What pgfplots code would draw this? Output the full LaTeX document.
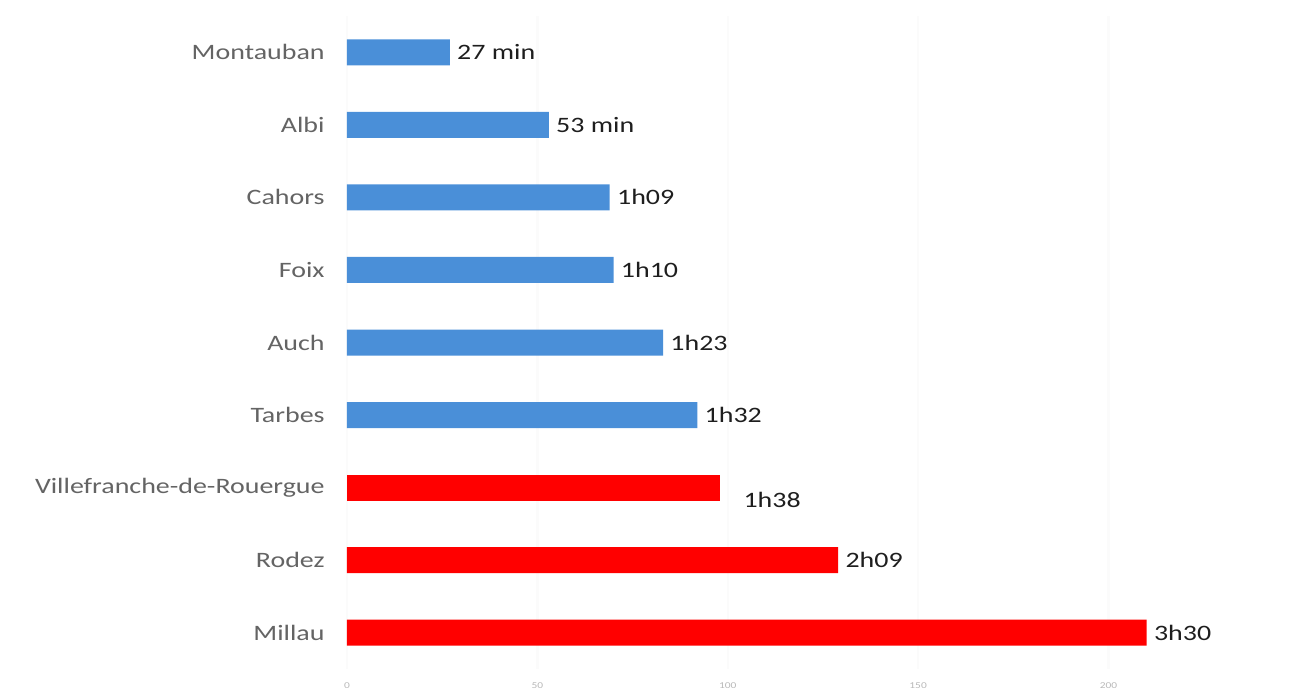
\documentclass[border=0pt]{standalone}
\usepackage{pgfplots}
\pgfplotsset{compat=1.18}
\usepackage{fontspec}
\setmainfont[FakeStretch=1.27]{Carlito}
\definecolor{barblue}{RGB}{74,143,216}
\definecolor{barred}{RGB}{255,0,0}
\definecolor{catgray}{RGB}{100,100,100}
\definecolor{valblack}{RGB}{30,30,30}

\begin{document}
\begin{tikzpicture}
\begin{axis}[
  at={(0pt,0pt)}, anchor=south west,
  scale only axis, width=475pt, height=326.5pt,
  xmin=0, xmax=249.5, ymin=-0.5, ymax=8.5, y dir=reverse,
  axis line style={draw=none},
  major tick length=0pt,
  xtick={0,50,100,150,200},
  ytick={0,...,8},
  yticklabels={Montauban,Albi,Cahors,Foix,Auch,Tarbes,Villefranche-de-Rouergue,Rodez,Millau},
  yticklabel style={font=\fontsize{11}{13}\selectfont, text=catgray, anchor=east, inner sep=0pt, xshift=-11pt},
  xticklabel style={font=\fontsize{4.5}{5}\selectfont, text=gray!55, anchor=north, inner sep=0pt, yshift=-6.5pt},
  /pgf/number format/assume math mode=true,
  xmajorgrids, grid style={gray!3, line width=1.2pt},
  nodes near coords style={font=\fontsize{11}{13}\selectfont, text=valblack, anchor=west, inner sep=0pt, xshift=3.5pt},
]
% regional prefectures
\addplot[xbar, bar width=13pt, bar shift=0pt, fill=barblue, draw=none,
  nodes near coords, point meta=explicit symbolic]
  coordinates {(27,0) [27 min] (53,1) [53 min] (69,2) [1h09] (70,3) [1h10] (83,4) [1h23] (92,5) [1h32]};
% Aveyron towns
\addplot[xbar, bar width=13pt, bar shift=0pt, fill=barred, draw=none,
  nodes near coords, point meta=explicit symbolic,
  nodes near coords style={xshift=8pt, yshift=-6pt}]
  coordinates {(98,6) [1h38]};
\addplot[xbar, bar width=13pt, bar shift=0pt, fill=barred, draw=none,
  nodes near coords, point meta=explicit symbolic]
  coordinates {(129,7) [2h09] (210,8) [3h30]};
\end{axis}
\pgfresetboundingbox
\useasboundingbox (-173.5pt,-13.5pt) rectangle (475pt,334.5pt);
\end{tikzpicture}
\end{document}
